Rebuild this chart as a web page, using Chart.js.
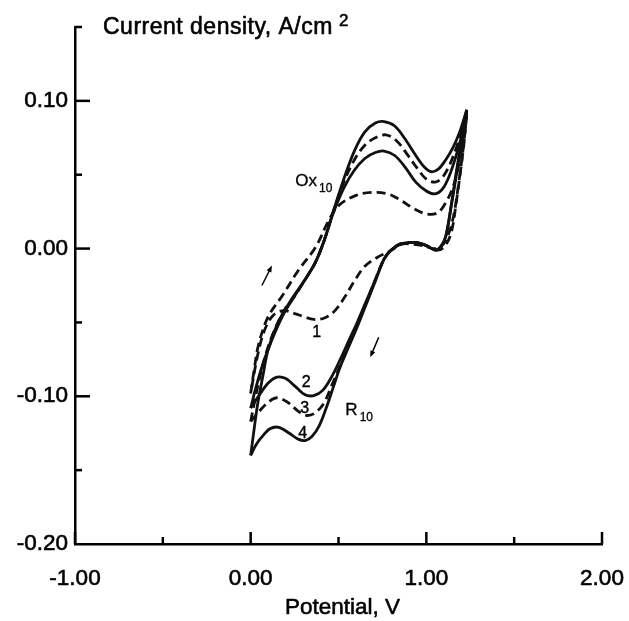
<!DOCTYPE html>
<html><head><meta charset="utf-8">
<script src="https://cdn.jsdelivr.net/npm/chart.js@4/dist/chart.umd.min.js"></script>
<style>html,body{margin:0;padding:0;background:#fff;}canvas{display:block;}</style>
</head><body>
<canvas id="c" width="629" height="621"></canvas>
<script>
// ---- Data (potential E in V, current density I in A/cm2) ----
const cycle1AnodicE = [0.00, 0.02, 0.045, 0.10, 0.18, 0.27, 0.37, 0.44, 0.50, 0.60, 0.69, 0.78, 0.85, 0.93, 1.00, 1.06, 1.10, 1.15, 1.19, 1.23];
const cycle1AnodicI = [-0.098, -0.082, -0.065, -0.046, -0.032, -0.015, 0.001, 0.018, 0.029, 0.036, 0.038, 0.037, 0.033, 0.027, 0.0235, 0.024, 0.029, 0.041, 0.060, 0.090];
const cycle1CathodicE = [1.23, 1.21, 1.185, 1.155, 1.12, 1.08, 1.04, 0.98, 0.92, 0.86, 0.79, 0.72, 0.65, 0.59, 0.54, 0.48, 0.42, 0.36, 0.30, 0.25, 0.19, 0.13, 0.08, 0.04, 0.00];
const cycle1CathodicI = [0.090, 0.068, 0.045, 0.022, 0.008, 0.001, 0.000, 0.002, 0.003, 0.003, -0.002, -0.006, -0.012, -0.022, -0.032, -0.042, -0.047, -0.048, -0.046, -0.044, -0.042, -0.045, -0.055, -0.072, -0.098];

const cycle2AnodicE = [0.00, 0.03, 0.07, 0.12, 0.18, 0.24, 0.31, 0.37, 0.42, 0.47, 0.53, 0.59, 0.65, 0.71, 0.76, 0.82, 0.88, 0.94, 1.00, 1.05, 1.09, 1.13, 1.17, 1.20, 1.23];
const cycle2AnodicI = [-0.108, -0.094, -0.078, -0.062, -0.046, -0.034, -0.021, -0.009, 0.006, 0.024, 0.041, 0.053, 0.061, 0.065, 0.066, 0.063, 0.055, 0.045, 0.039, 0.037, 0.040, 0.049, 0.063, 0.076, 0.092];
const cycle2CathodicE = [1.23, 1.20, 1.175, 1.145, 1.11, 1.08, 1.05, 1.00, 0.95, 0.90, 0.85, 0.80, 0.76, 0.71, 0.66, 0.61, 0.56, 0.51, 0.46, 0.41, 0.36, 0.31, 0.26, 0.20, 0.15, 0.10, 0.05, 0.00];
const cycle2CathodicI = [0.092, 0.071, 0.053, 0.031, 0.008, 0.001, -0.001, 0.002, 0.004, 0.004, 0.003, -0.001, -0.007, -0.021, -0.035, -0.049, -0.062, -0.075, -0.087, -0.096, -0.0995, -0.099, -0.094, -0.088, -0.087, -0.091, -0.099, -0.108];

const cycle3AnodicE = [0.00, 0.02, 0.05, 0.09, 0.14, 0.20, 0.24, 0.31, 0.37, 0.42, 0.47, 0.53, 0.59, 0.65, 0.71, 0.77, 0.83, 0.89, 0.95, 1.00, 1.05, 1.09, 1.13, 1.17, 1.20, 1.23];
const cycle3AnodicI = [-0.117, -0.105, -0.088, -0.070, -0.054, -0.040, -0.034, -0.021, -0.009, 0.006, 0.025, 0.045, 0.060, 0.070, 0.075, 0.077, 0.073, 0.064, 0.054, 0.047, 0.045, 0.048, 0.056, 0.068, 0.079, 0.093];
const cycle3CathodicE = [1.23, 1.215, 1.195, 1.17, 1.14, 1.10, 1.06, 1.00, 0.95, 0.90, 0.85, 0.80, 0.76, 0.71, 0.66, 0.61, 0.56, 0.51, 0.46, 0.42, 0.37, 0.32, 0.27, 0.21, 0.15, 0.10, 0.05, 0.00];
const cycle3CathodicI = [0.093, 0.072, 0.053, 0.031, 0.010, 0.001, -0.001, 0.002, 0.004, 0.004, 0.003, -0.001, -0.007, -0.021, -0.036, -0.051, -0.065, -0.079, -0.093, -0.104, -0.111, -0.113, -0.110, -0.104, -0.101, -0.104, -0.110, -0.117];

const cycle4AnodicE = [0.00, 0.02, 0.04, 0.07, 0.10, 0.16, 0.24, 0.31, 0.37, 0.42, 0.47, 0.53, 0.59, 0.65, 0.71, 0.76, 0.82, 0.88, 0.94, 0.99, 1.03, 1.07, 1.11, 1.15, 1.19, 1.23];
const cycle4AnodicI = [-0.140, -0.122, -0.105, -0.086, -0.068, -0.049, -0.033, -0.021, -0.009, 0.006, 0.025, 0.047, 0.066, 0.079, 0.085, 0.086, 0.083, 0.074, 0.063, 0.055, 0.052, 0.054, 0.060, 0.068, 0.079, 0.094];
const cycle4CathodicE = [1.23, 1.20, 1.175, 1.145, 1.11, 1.08, 1.05, 1.00, 0.95, 0.90, 0.85, 0.80, 0.76, 0.71, 0.66, 0.61, 0.56, 0.51, 0.47, 0.43, 0.39, 0.35, 0.31, 0.27, 0.22, 0.16, 0.11, 0.06, 0.03, 0.00];
const cycle4CathodicI = [0.094, 0.073, 0.055, 0.032, 0.008, 0.001, -0.001, 0.002, 0.004, 0.004, 0.003, -0.001, -0.007, -0.022, -0.037, -0.052, -0.066, -0.080, -0.094, -0.108, -0.120, -0.127, -0.130, -0.129, -0.125, -0.121, -0.122, -0.128, -0.133, -0.140];

const xMajorTicks = [-1, 0, 1, 2];
const xMinorTicks = [-0.5, 0.5, 1.5];
const yMajorTicks = [0.1, 0.0, -0.1];
const yMinorTicks = [0.15, 0.05, -0.05, -0.15];

const yTitle = 'Current density, A/cm';
const yTitleSup = '2';
const xTitle = 'Potential, V';

// cycle labels: [text, E, I]
const cycleLabels = [['1', 0.376, -0.057], ['2', 0.316, -0.091], ['3', 0.307, -0.108], ['4', 0.296, -0.125]];
// peak labels: [main, sub, E, I]
const peakLabels = [['Ox', '10', 0.254, 0.0426], ['R', '10', 0.539, -0.113]];
// scan direction arrows: [E0, I0, E1, I1]
const scanArrows = [[0.064, -0.025, 0.121, -0.0115], [0.729, -0.060, 0.681, -0.0735]];

// ---- Chart ----
const FONT = "'Liberation Sans', Arial, Helvetica, sans-serif";
const INK = '#111';
function pts(E, I) { return E.map((e, k) => ({ x: e, y: I[k] })); }
function ds(label, E, I, dashed) {
  return { label, data: pts(E, I), showLine: true, borderColor: INK, borderWidth: 2.8,
    borderDash: dashed ? [9, 5] : [], pointRadius: 0, tension: 0.35, fill: false };
}
const datasets = [
  ds('1a', cycle1AnodicE, cycle1AnodicI, true), ds('1c', cycle1CathodicE, cycle1CathodicI, true),
  ds('2a', cycle2AnodicE, cycle2AnodicI, false), ds('2c', cycle2CathodicE, cycle2CathodicI, false),
  ds('3a', cycle3AnodicE, cycle3AnodicI, true), ds('3c', cycle3CathodicE, cycle3CathodicI, true),
  ds('4a', cycle4AnodicE, cycle4AnodicI, false), ds('4c', cycle4CathodicE, cycle4CathodicI, false)
];

function boldText(ctx, t, px, py, sw) {
  ctx.lineWidth = sw; ctx.strokeText(t, px, py); ctx.fillText(t, px, py);
}

const decor = {
  id: 'decor',
  afterDraw(chart) {
    const { ctx, chartArea: ca, scales: { x, y } } = chart;
    ctx.save();
    ctx.strokeStyle = '#000'; ctx.fillStyle = '#000';
    // inward ticks
    ctx.lineWidth = 2.5; ctx.lineCap = 'butt';
    const tickY = (v, len) => { const p = y.getPixelForValue(v); ctx.beginPath(); ctx.moveTo(ca.left, p); ctx.lineTo(ca.left + len, p); ctx.stroke(); };
    const tickX = (v, len) => { const p = x.getPixelForValue(v); ctx.beginPath(); ctx.moveTo(p, ca.bottom); ctx.lineTo(p, ca.bottom - len); ctx.stroke(); };
    yMajorTicks.forEach(v => tickY(v, 15));
    yMinorTicks.forEach(v => tickY(v, 7));
    xMajorTicks.forEach(v => tickX(v, 12));
    xMinorTicks.forEach(v => tickX(v, 7));
    ctx.lineJoin = 'round';
    // x title
    ctx.textAlign = 'center'; ctx.textBaseline = 'middle';
    ctx.font = `22.5px ${FONT}`;
    boldText(ctx, xTitle, (ca.left + ca.right) / 2 + 4, ca.bottom + 64, 0.6);
    // y title
    ctx.textAlign = 'left'; ctx.textBaseline = 'alphabetic';
    ctx.font = `23px ${FONT}`;
    if ('letterSpacing' in ctx) ctx.letterSpacing = '0.5px';
    const tx = ca.left + 28, ty = ca.top + 7;
    boldText(ctx, yTitle, tx, ty, 0.6);
    const w = ctx.measureText(yTitle).width;
    if ('letterSpacing' in ctx) ctx.letterSpacing = '0px';
    ctx.font = `17px ${FONT}`;
    boldText(ctx, yTitleSup, tx + w + 6, ty - 8, 0.5);
    // peak labels
    peakLabels.forEach(([m, s, e, i]) => {
      const px = x.getPixelForValue(e), py = y.getPixelForValue(i);
      ctx.font = `17px ${FONT}`;
      boldText(ctx, m, px, py, 0.3);
      const mw = ctx.measureText(m).width;
      ctx.font = `12px ${FONT}`;
      boldText(ctx, s, px + mw + 2, py + 6, 0.3);
    });
    // cycle numbers
    ctx.textAlign = 'center'; ctx.textBaseline = 'middle';
    ctx.font = `16px ${FONT}`;
    cycleLabels.forEach(([t, e, i]) => boldText(ctx, t, x.getPixelForValue(e), y.getPixelForValue(i), 0.4));
    // arrows
    ctx.lineWidth = 1.5;
    scanArrows.forEach(([e0, i0, e1, i1]) => {
      const x0 = x.getPixelForValue(e0), y0 = y.getPixelForValue(i0);
      const x1 = x.getPixelForValue(e1), y1 = y.getPixelForValue(i1);
      const a = Math.atan2(y1 - y0, x1 - x0);
      ctx.beginPath(); ctx.moveTo(x0, y0); ctx.lineTo(x1 - 3 * Math.cos(a), y1 - 3 * Math.sin(a)); ctx.stroke();
      ctx.beginPath();
      ctx.moveTo(x1, y1);
      ctx.lineTo(x1 - 7 * Math.cos(a - 0.38), y1 - 7 * Math.sin(a - 0.38));
      ctx.lineTo(x1 - 7 * Math.cos(a + 0.38), y1 - 7 * Math.sin(a + 0.38));
      ctx.closePath(); ctx.fill();
    });
    ctx.restore();
  }
};

const fmt = v => (Math.abs(v) < 1e-9 ? 0 : v).toFixed(2);

new Chart(document.getElementById('c'), {
  type: 'scatter',
  data: { datasets },
  options: {
    responsive: false, animation: false, events: [],
    layout: { padding: { left: 0, right: 27, top: 27, bottom: 0 } },
    plugins: { legend: { display: false }, tooltip: { enabled: false }, title: { display: false } },
    scales: {
      x: {
        type: 'linear', min: -1, max: 2,
        grid: { display: false, drawTicks: false },
        border: { display: true, color: '#000', width: 2.5 },
        ticks: { stepSize: 0.5, autoSkip: false, maxRotation: 0, padding: 21, color: '#000',
          textStrokeColor: '#000', textStrokeWidth: 0.6,
          font: { size: 22.5, family: FONT },
          callback: v => (Math.abs(v - Math.round(v)) < 1e-6 ? fmt(v) : '') },
        title: { display: false },
        afterFit(s) { s.height = 77; s.paddingLeft = 0; s.paddingRight = 0; }
      },
      y: {
        type: 'linear', min: -0.2, max: 0.15,
        grid: { display: false, drawTicks: false },
        border: { display: true, color: '#000', width: 2.5 },
        ticks: { stepSize: 0.05, autoSkip: false, padding: 7, color: '#000',
          textStrokeColor: '#000', textStrokeWidth: 0.6,
          font: { size: 22.5, family: FONT },
          callback: v => (Math.round(v * 100) % 10 === 0 ? fmt(v) : '') },
        afterFit(s) { s.width = 75; s.paddingTop = 0; s.paddingBottom = 0; }
      }
    }
  },
  plugins: [decor]
});
</script>
</body></html>
